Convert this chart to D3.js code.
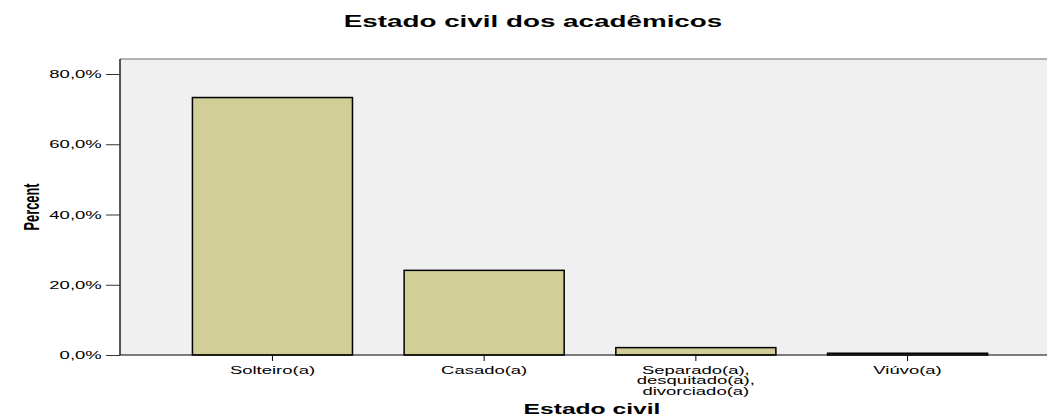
<!doctype html>
<html>
<head>
    <meta charset="UTF-8">
    <title>Estado civil</title>
    <script src="https://d3js.org/d3.v7.min.js"></script>
    <style>
        body{ margin:0; background:#fff; }
        text{ font-family:"Liberation Sans", Arial, sans-serif; }
    </style>
</head>
<body>
  <svg id="svg1" width="1047" height="418"></svg>

  <script>
    // data
    var categories = ["Solteiro(a)", "Casado(a)", "Separado(a),\ndesquitado(a),\ndivorciado(a)", "Viúvo(a)"];
    var percents = [73.3, 24.1, 2.1, 0.5];
    var yTicks = [0, 20, 40, 60, 80];

    var sx = 1.76; // the original picture is stretched sideways
    var pLeft = 120, pRight = 1047, pTop = 59, pBottom = 355;

    var svg = d3.select("#svg1");

    var x = d3.scaleBand()
        .domain(categories)
        .range([166.6, 1013.4])
        .paddingInner(0.244)
        .paddingOuter(0.122);

    var y = d3.scaleLinear()
        .domain([0, 80])
        .range([pBottom, 74]);

    // plot background
    svg.append("rect")
        .attr("x", pLeft).attr("y", pTop)
        .attr("width", pRight - pLeft).attr("height", pBottom - pTop)
        .attr("fill", "#f0f0f0");
    svg.append("line")
        .attr("x1", pLeft).attr("x2", pRight)
        .attr("y1", pTop).attr("y2", pTop)
        .attr("stroke", "#9a9a9a").attr("stroke-width", 1.5);

    // bars
    svg.selectAll("rect.bar")
        .data(percents)
        .enter().append("rect")
        .attr("class", "bar")
        .attr("x", function(d, i){ return x(categories[i]); })
        .attr("y", function(d){ return y(d); })
        .attr("width", x.bandwidth())
        .attr("height", function(d){ return y(0) - y(d); })
        .attr("fill", "#d2ce98")
        .attr("stroke", "#000")
        .attr("stroke-width", 1.5);

    // y axis
    var yAxis = svg.append("g")
        .attr("transform", "translate(" + pLeft + ",0)")
        .call(d3.axisLeft(y).tickValues(yTicks).tickSize(14).tickSizeOuter(0)
              .tickFormat(function(d){ return d3.format(".1f")(d).replace(".", ",") + "%"; }));
    yAxis.select(".domain").attr("stroke", "#222").attr("stroke-width", 1.5)
        .attr("d", "M0," + pTop + "V" + pBottom);
    yAxis.selectAll(".tick line").attr("stroke", "#333");
    yAxis.selectAll(".tick text")
        .attr("x", -18.3 / sx)
        .attr("dy", "0.35em")
        .attr("transform", "scale(" + sx + ",1)")
        .attr("font-size", 10.5)
        .attr("font-family", null)
        .attr("fill", "#000");

    // x axis
    var xAxis = svg.append("g")
        .attr("transform", "translate(0," + pBottom + ")")
        .call(d3.axisBottom(x).tickSize(6).tickSizeOuter(0));
    xAxis.select(".domain").attr("stroke", "#000")
        .attr("d", "M" + pLeft + ",0H" + pRight);
    xAxis.selectAll(".tick line").attr("stroke", "#000");
    xAxis.selectAll(".tick text").remove();
    xAxis.selectAll(".tick").append("text")
        .attr("transform", "translate(0,19) scale(" + sx + ",1)")
        .attr("text-anchor", "middle")
        .attr("font-size", 10.5)
        .attr("fill", "#000")
        .each(function(d){
            var lines = d.split("\n");
            var t = d3.select(this);
            for(var i=0; i<lines.length; i++){
                t.append("tspan").attr("x", 0).attr("dy", i === 0 ? 0 : 10.3).text(lines[i]);
            }
        });

    // titles
    svg.append("text")
        .attr("transform", "translate(533,27) scale(" + sx + ",1)")
        .attr("text-anchor", "middle")
        .attr("font-weight", "bold")
        .attr("font-size", 15.8)
        .text("Estado civil dos acadêmicos");

    svg.append("text")
        .attr("transform", "translate(592,414) scale(" + sx + ",1)")
        .attr("text-anchor", "middle")
        .attr("font-weight", "bold")
        .attr("font-size", 14)
        .text("Estado civil");

    svg.append("text")
        .attr("transform", "translate(39," + (pTop + pBottom) / 2 + ") scale(" + sx + ",1) rotate(-90)")
        .attr("text-anchor", "middle")
        .attr("font-weight", "bold")
        .attr("font-size", 12.8)
        .text("Percent");
  </script>
</body>
</html>
